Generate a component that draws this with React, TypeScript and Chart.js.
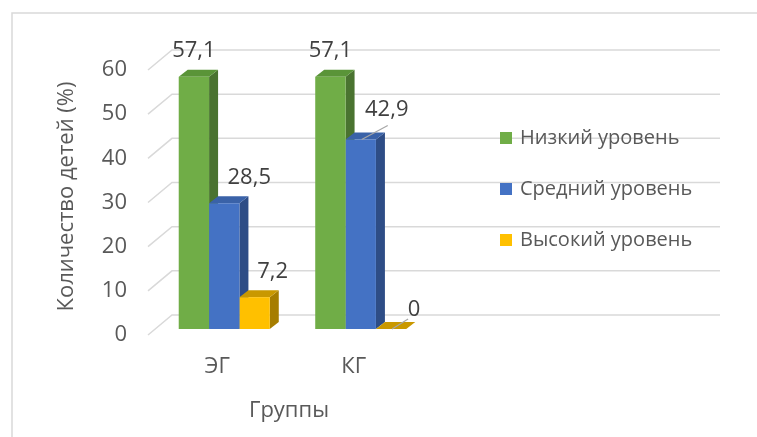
import React, { useEffect, useRef } from "react";
import { Chart, registerables } from "chart.js";

Chart.register(...registerables);

// ---- data ----
const categories = ["ЭГ", "КГ", "", ""];
const seriesNames = ["Низкий уровень", "Средний уровень", "Высокий уровень"];
const lowValues = [57.1, 57.1, null, null];
const midValues = [28.5, 42.9, null, null];
const highValues = [7.2, 0, null, null];
const yTickValues = [0, 10, 20, 30, 40, 50, 60];
const yAxisTitle = "Количество детей (%)";
const xAxisTitle = "Группы";

// ---- style ----
const FONT = "'Open Sans', sans-serif";
const FRONT = ["#70AD47", "#4472C4", "#FFC000"];
const TOPC = ["#5A9438", "#3A62A8", "#C99800"];
const SIDE = ["#4A7330", "#2E4D86", "#A67D00"];
const GRID = "#D9D9D9";
const TEXT = "#595959";
const LABEL = "#404040";
const DX = 9;
const DY = -7;

const fmt = (v: number) => String(v).replace(".", ",");

const bar3d = {
  id: "bar3d",
  beforeDraw(chart: any) {
    const { ctx, width, height } = chart;
    ctx.save();
    ctx.strokeStyle = "#D9D9D9";
    ctx.lineWidth = 1.5;
    ctx.beginPath();
    ctx.moveTo(12, height);
    ctx.lineTo(12, 13);
    ctx.lineTo(width, 13);
    ctx.stroke();
    ctx.restore();
  },
  beforeDatasetsDraw(chart: any) {
    const { ctx, chartArea, scales } = chart;
    const ys = scales.y;
    ctx.save();
    ctx.strokeStyle = GRID;
    ctx.lineWidth = 1.5;
    for (const v of yTickValues) {
      const py = ys.getPixelForValue(v);
      ctx.beginPath();
      ctx.moveTo(chartArea.left - 8, py + 6);
      ctx.lineTo(chartArea.left + 16, py - 14);
      ctx.lineTo(chartArea.right + 18, py - 14);
      ctx.stroke();
    }
    chart.data.datasets.forEach((ds: any, di: number) => {
      const meta = chart.getDatasetMeta(di);
      meta.data.forEach((el: any, i: number) => {
        const v = ds.data[i];
        if (v == null) return;
        const { x, y, base, width } = el.getProps(["x", "y", "base", "width"], true);
        const l = x - width / 2;
        const r = x + width / 2;
        ctx.fillStyle = SIDE[di];
        ctx.beginPath();
        ctx.moveTo(r, y);
        ctx.lineTo(r + DX, y + DY);
        ctx.lineTo(r + DX, base + DY);
        ctx.lineTo(r, base);
        ctx.closePath();
        ctx.fill();
        ctx.fillStyle = TOPC[di];
        ctx.beginPath();
        ctx.moveTo(l, y);
        ctx.lineTo(l + DX, y + DY);
        ctx.lineTo(r + DX, y + DY);
        ctx.lineTo(r, y);
        ctx.closePath();
        ctx.fill();
      });
    });
    ctx.restore();
  },
  afterDatasetsDraw(chart: any) {
    const { ctx } = chart;
    ctx.save();
    ctx.font = `22px ${FONT}`;
    ctx.fillStyle = LABEL;
    ctx.textAlign = "center";
    ctx.textBaseline = "middle";
    const shift = [
      [0, -19],
      [25, -18],
      [18, -18],
    ];
    chart.data.datasets.forEach((ds: any, di: number) => {
      const meta = chart.getDatasetMeta(di);
      meta.data.forEach((el: any, i: number) => {
        const v = ds.data[i];
        if (v == null) return;
        const { x, y } = el.getProps(["x", "y"], true);
        const topBack = y + DY;
        let dx = shift[di][0];
        let dy = shift[di][1];
        const leader = i === 1 && di > 0;
        if (leader) {
          dx = di === 1 ? 26 : 23;
          dy = di === 1 ? -23 : -12;
        }
        const lx = x + dx;
        const ly = topBack + dy;
        ctx.fillText(fmt(v), lx, ly);
        if (leader) {
          ctx.strokeStyle = "#A6A6A6";
          ctx.lineWidth = 1.2;
          ctx.beginPath();
          if (di === 1) {
            ctx.moveTo(lx + 1, ly + 16);
          } else {
            ctx.moveTo(lx - 6, ly + 9);
          }
          ctx.lineTo(x + 1, y);
          ctx.stroke();
        }
      });
    });
    ctx.restore();
  },
  afterDraw(chart: any) {
    const { ctx } = chart;
    ctx.save();
    ctx.font = `20px ${FONT}`;
    ctx.textAlign = "left";
    ctx.textBaseline = "middle";
    chart.data.datasets.forEach((ds: any, di: number) => {
      const cy = 138 + di * 51;
      ctx.fillStyle = FRONT[di];
      ctx.fillRect(500, cy - 6, 12, 12);
      ctx.fillStyle = TEXT;
      ctx.fillText(ds.label, 520, cy);
    });
    // x axis title (positioned under the category area like the source)
    ctx.font = `22px ${FONT}`;
    ctx.textAlign = "center";
    ctx.fillText(xAxisTitle, 289, 411);
    ctx.restore();
  },
};

export default function App() {
  const ref = useRef<HTMLCanvasElement | null>(null);
  useEffect(() => {
    document.body.style.margin = "0";
    const canvas = ref.current;
    if (!canvas) return;
    const chart = new Chart(canvas, {
      type: "bar",
      data: {
        labels: categories,
        datasets: [
          { label: seriesNames[0], data: lowValues, backgroundColor: FRONT[0] },
          { label: seriesNames[1], data: midValues, backgroundColor: FRONT[1] },
          { label: seriesNames[2], data: highValues, backgroundColor: FRONT[2] },
        ],
      } as any,
      options: {
        responsive: false,
        animation: false,
        layout: { padding: { top: 64, right: 55, left: 0, bottom: 0 } },
        datasets: { bar: { categoryPercentage: 0.667, barPercentage: 1 } },
        plugins: {
          legend: { display: false },
          tooltip: { enabled: false },
        },
        scales: {
          x: {
            grid: { display: false, drawTicks: false },
            border: { display: false },
            ticks: {
              color: TEXT,
              font: { family: FONT, size: 22 },
              padding: 25,
              labelOffset: -7,
              maxRotation: 0,
            },
            title: { display: false, text: xAxisTitle },
            afterFit: (s: any) => {
              s.height = 108;
            },
          },
          y: {
            min: 0,
            max: 60,
            grid: { display: false, drawTicks: false },
            border: { display: false },
            afterBuildTicks: (s: any) => {
              s.ticks = yTickValues.map((v) => ({ value: v }));
            },
            ticks: {
              color: TEXT,
              font: { family: FONT, size: 22 },
              padding: 29,
              labelOffset: 6,
            },
            title: {
              display: true,
              text: yAxisTitle,
              color: TEXT,
              font: { family: FONT, size: 22 },
              padding: { top: 54, bottom: 0 },
            },
            afterFit: (s: any) => {
              s.width = 156;
            },
          },
        },
      } as any,
      plugins: [bar3d],
    });
    return () => chart.destroy();
  }, []);
  return <canvas ref={ref} width={757} height={437} style={{ display: "block" }} />;
}
